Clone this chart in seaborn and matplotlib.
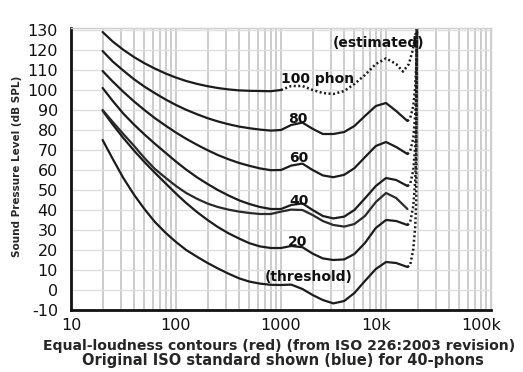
import numpy as np
import pandas as pd
import seaborn as sns
import matplotlib
matplotlib.use("Agg")
import matplotlib.pyplot as plt
import matplotlib.transforms as mtransforms
from matplotlib.ticker import LogLocator, FixedLocator, NullFormatter

# frequencies (Hz) for the solid parts of the contours
freqs = [20, 25, 31.5, 40, 50, 63, 80, 100, 125, 160, 200, 250, 315, 400, 500, 630,
         800, 1000, 1250, 1600, 2000, 2500, 3150, 4000, 5000, 6300, 8000, 10000, 12500, 16000]

threshold = [75, 65.5, 56, 47.5, 40.5, 34, 28.5, 24, 20, 16.5, 13.5, 10.8, 8.2, 5.8, 4.2, 3.2,
             2.6, 2.5, 2.7, 0.5, -2.5, -5, -6.7, -5.5, -1.5, 4.5, 10.5, 14, 13.5, 11.5]
phon20 = [89.6, 82.7, 76, 69.6, 64, 58.6, 53.2, 48.2, 43.5, 38.8, 35, 31.5, 28.4, 25.7, 23.4, 21.8,
          21, 21, 22, 21.4, 18.2, 15.8, 15, 15.3, 18, 23.5, 31, 35, 34.5, 32.5]
phon40 = [101, 94.5, 88.2, 82.6, 77.8, 73.1, 68.5, 64.2, 60.2, 56.2, 53, 50, 47.3, 44.8, 43, 41.5,
          40.5, 40.5, 42.5, 43.3, 40, 37, 35.8, 36.7, 40, 45.8, 52, 56, 55, 52]
phon60 = [109.5, 104.2, 99.1, 94.2, 90, 85.9, 82.1, 78.7, 75.6, 72.5, 69.9, 67.5, 65.4, 63.5, 62.1, 60.8,
          59.9, 60, 62.2, 63.2, 60, 57.3, 56.4, 57.6, 60.9, 66.4, 72, 74, 71.5, 68]
phon80 = [119.5, 114.2, 109.7, 105.3, 101.7, 98.4, 95.2, 92.5, 90.1, 87.8, 85.9, 84.3, 82.9, 81.7, 80.9, 80.2,
          79.7, 80, 82.5, 83.7, 80.6, 78, 78, 79, 82, 87, 92, 93.5, 89.5, 84.5]
# 100 phon: measured up to 1 kHz, estimated above
phon100_freqs = [20, 25, 31.5, 40, 50, 63, 80, 100, 125, 160, 200, 250, 315, 400, 500, 630, 800, 1000]
phon100 = [129, 124.2, 120.1, 116.4, 113.4, 110.7, 108.2, 106.2, 104.5, 103, 101.9, 101, 100.3, 99.8, 99.6,
           99.5, 99.4, 100]
est100_freqs = [1000, 1250, 1600, 2000, 2500, 3150, 4000, 5000, 6300, 8000, 10000, 12500, 14500,
                16500, 18000, 19000, 19700]
est100 = [100, 102, 102, 100, 98.5, 98, 99.5, 103, 107.5, 113, 115.8, 113, 109.2, 113, 120, 127, 131]

# original ISO standard, 40 phon (blue)
orig40 = [90, 84, 78, 72, 66, 60.5, 56, 52, 48.5, 45.5, 43.2, 41.5, 40.2, 39.2, 38.5, 38,
          38, 39.2, 40.2, 40, 37.5, 34.5, 32.5, 31.7, 33, 37, 44, 48.5, 46, 40.5]

# dotted rise towards 20 kHz (estimated)
ext_freqs = [16000, 17000, 18200, 19000, 19400, 19700]
ext_thr = [11.5, 12.5, 20.5, 32, 45, 131]
ext_20 = [32.5, 34, 42, 55, 70, 131]
ext_40 = [52, 53, 60, 72, 85, 131]
ext_60 = [68, 69.5, 76, 88, 100, 131]
ext_80 = [84.5, 86, 92, 102, 112, 131]

xtick_vals = [10, 100, 1000, 10000, 100000]
xtick_labels = ["10", "100", "1000", "10k", "100k"]
ytick_vals = list(range(-10, 131, 10))

line_col = "#1c1c1c"
dots = (0, (0.8, 1.0))

sns.set_style("white")
plt.rcParams['font.family'] = ['DejaVu Sans']

fig = plt.figure(figsize=(5.23, 3.72), dpi=100)
ax = fig.add_axes([71 / 523, 62 / 372, 420 / 523, 282 / 372])

for vals in [threshold, phon20, phon40, phon60, phon80]:
    sns.lineplot(x=freqs, y=vals, ax=ax, color=line_col, lw=1.6, estimator=None, sort=False)
sns.lineplot(x=freqs, y=orig40, ax=ax, color="#2a2a2a", lw=1.6, estimator=None, sort=False)
sns.lineplot(x=phon100_freqs, y=phon100, ax=ax, color=line_col, lw=1.6, estimator=None, sort=False)
sns.lineplot(x=est100_freqs, y=est100, ax=ax, color=line_col, lw=1.8, ls=dots,
             estimator=None, sort=False)
for vals in [ext_thr, ext_20, ext_40, ext_60, ext_80]:
    sns.lineplot(x=ext_freqs, y=vals, ax=ax, color=line_col, lw=1.8, ls=dots,
                 estimator=None, sort=False)

ax.set_xscale("log")
ax.set_xlim(10, 100000)
ax.set_ylim(-10, 131)
ax.xaxis.set_major_locator(FixedLocator(xtick_vals))
ax.set_xticklabels(xtick_labels)
ax.xaxis.set_minor_locator(LogLocator(base=10, subs=range(2, 10)))
ax.xaxis.set_minor_formatter(NullFormatter())
ax.set_yticks(ytick_vals)
ax.set_yticklabels([str(v) for v in ytick_vals])
ax.tick_params(axis="both", which="both", length=0, labelsize=11.5, colors="#111111")
ax.tick_params(axis="y", pad=9.4)
ax.tick_params(axis="x", pad=6)

# the "10k" / "100k" labels sit a little left of their grid lines
shift = mtransforms.ScaledTranslation(-10 / 100, 0, fig.dpi_scale_trans)
for t in ax.get_xticklabels()[3:]:
    t.set_transform(t.get_transform() + shift)

ax.grid(True, axis="x", which="both", color="#c4c4c4", lw=1.2)
ax.grid(True, axis="y", which="major", color="#dedede", lw=1.0)
ax.set_axisbelow(True)
for s in ["top", "right"]:
    ax.spines[s].set_color("#cfcfcf")
    ax.spines[s].set_linewidth(1.0)
for s in ["left", "bottom"]:
    ax.spines[s].set_color("#111111")
    ax.spines[s].set_linewidth(2.0)

ax.set_xlabel("")
ax.set_ylabel("Sound Pressure Level (dB SPL)", fontsize=7.5, fontweight="bold")
ax.yaxis.set_label_coords(-0.117, 0.51)

lab = dict(fontsize=10, fontweight="bold", color="#111111", va="center")
ax.text(1000, 105.3, "100 phon", ha="left", **lab)
ax.text(3100, 123.3, "(estimated)", ha="left", **lab)
ax.text(1450, 85.3, "80", ha="center", **lab)
ax.text(1480, 65.8, "60", ha="center", **lab)
ax.text(1480, 44.7, "40", ha="center", **lab)
ax.text(1440, 24.2, "20", ha="center", **lab)
ax.text(1850, 6.7, "(threshold)", ha="center", **lab)

fig.text(279 / 523, 1 - 346 / 372, "Equal-loudness contours (red) (from ISO 226:2003 revision)",
         ha="center", va="center", fontsize=10.1, fontweight="bold")
fig.text(283 / 523, 1 - 361 / 372, "Original ISO standard shown (blue) for 40-phons",
         ha="center", va="center", fontsize=10.5, fontweight="bold")

fig.savefig("out.png", dpi=100)
